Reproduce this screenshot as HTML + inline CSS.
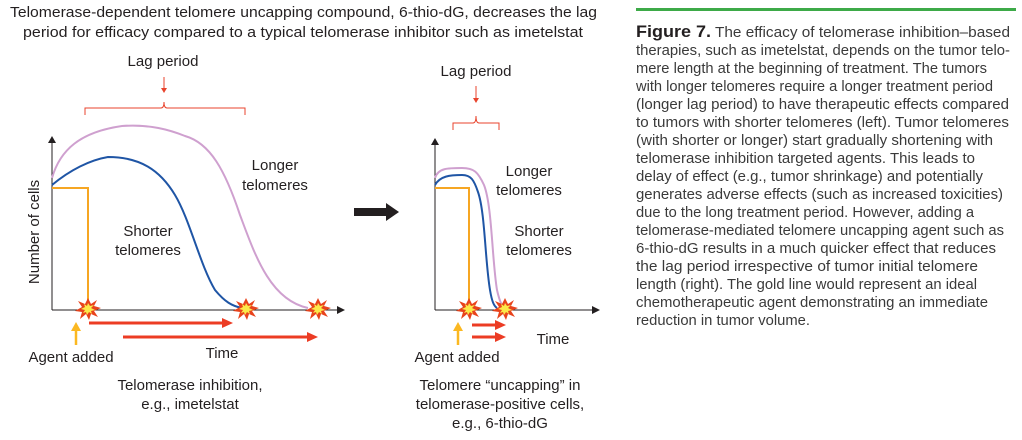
<!DOCTYPE html>
<html><head><meta charset="utf-8"><style>
html,body{margin:0;padding:0;background:#fff;width:1022px;height:440px;overflow:hidden}
svg{display:block}
.t{font-family:"Liberation Sans",sans-serif;font-size:15px;fill:#231f20}
.c{font-family:"Liberation Sans",sans-serif;font-size:14.5px;fill:#3a3a3a}
</style></head><body>
<svg width="1022" height="440" viewBox="0 0 1022 440">
<defs>
<g id="boom">
<polygon points="0,-11 3,-5 9,-9 6,-3 13,-1 6,2 10,8 3,5 1,11 -2,5 -8,10 -6,3 -13,2 -6,-2 -10,-8 -3,-5" fill="#e8431c"/>
<polygon points="0,-6 2,-3 6,-4 3,-1 7,1 3,2 4,5 1,3 -1,6 -2,3 -5,4 -3,1 -7,0 -3,-2 -4,-5 -1,-3" fill="#fbe94a"/>
</g>
</defs>
<!-- Title -->
<text class="t" x="10" y="17" textLength="587" lengthAdjust="spacingAndGlyphs">Telomerase-dependent telomere uncapping compound, 6-thio-dG, decreases the lag</text>
<text class="t" x="23" y="37" textLength="560" lengthAdjust="spacingAndGlyphs">period for efficacy compared to a typical telomerase inhibitor such as imetelstat</text>

<!-- LEFT CHART -->
<text class="t" x="163" y="66" text-anchor="middle">Lag period</text>
<line x1="164" y1="77" x2="164" y2="88" stroke="#e8432c" stroke-width="1"/>
<polygon points="161,88 167,88 164,93" fill="#e8432c"/>
<path d="M85,115 V108 H161 Q164,108 164,102 Q164,108 167,108 H245 V115" fill="none" stroke="#e8432c" stroke-width="1"/>
<line x1="52" y1="310" x2="52" y2="142" stroke="#231f20" stroke-width="1"/>
<polygon points="48,143 56,143 52,136" fill="#231f20"/>
<line x1="52" y1="310" x2="338" y2="310" stroke="#231f20" stroke-width="1"/>
<polygon points="337,306 337,314 345,310" fill="#231f20"/>
<path d="M52,188 H88 V310" fill="none" stroke="#f6a623" stroke-width="2"/>
<path d="M52,178 C60,150 80,132 122,126 C150,124 170,130 185,136 C210,143 225,170 240,215 C255,255 270,300 308,308" fill="none" stroke="#cfa0cf" stroke-width="2"/>
<path d="M52,185 C70,170 90,160 108,157 C140,157 160,170 175,195 C190,220 200,265 215,290 C225,302 232,306 242,308" fill="none" stroke="#1f55a5" stroke-width="2"/>
<use href="#boom" x="88" y="309"/>
<use href="#boom" x="246" y="309"/>
<use href="#boom" x="318" y="309"/>
<line x1="89" y1="323" x2="224" y2="323" stroke="#ec3c24" stroke-width="3"/>
<polygon points="222,318 222,328 233,323" fill="#ec3c24"/>
<line x1="123" y1="337" x2="309" y2="337" stroke="#ec3c24" stroke-width="3"/>
<polygon points="307,332 307,342 318,337" fill="#ec3c24"/>
<line x1="76" y1="345" x2="76" y2="330" stroke="#fbb821" stroke-width="2.5"/>
<polygon points="71,331 81,331 76,322" fill="#fbb821"/>
<text class="t" x="275" y="170" text-anchor="middle">Longer</text>
<text class="t" x="275" y="190" text-anchor="middle">telomeres</text>
<text class="t" x="148" y="236" text-anchor="middle">Shorter</text>
<text class="t" x="148" y="255" text-anchor="middle">telomeres</text>
<text class="t" x="0" y="0" text-anchor="middle" transform="translate(39,232) rotate(-90)">Number of cells</text>
<text class="t" x="71" y="362" text-anchor="middle">Agent added</text>
<text class="t" x="222" y="358" text-anchor="middle">Time</text>
<text class="t" x="190" y="390" text-anchor="middle">Telomerase inhibition,</text>
<text class="t" x="190" y="409" text-anchor="middle">e.g., imetelstat</text>

<!-- middle arrow -->
<rect x="354" y="208" width="34" height="8" fill="#231f20"/>
<polygon points="386,203 386,221 399,212" fill="#231f20"/>

<!-- RIGHT CHART -->
<text class="t" x="476" y="76" text-anchor="middle">Lag period</text>
<line x1="476" y1="86" x2="476" y2="98" stroke="#e8432c" stroke-width="1"/>
<polygon points="473,98 479,98 476,103" fill="#e8432c"/>
<path d="M453,130 V123 H473 Q476,123 476,116 Q476,123 479,123 H499 V130" fill="none" stroke="#e8432c" stroke-width="1"/>
<line x1="435" y1="310" x2="435" y2="144" stroke="#231f20" stroke-width="1"/>
<polygon points="431,145 439,145 435,138" fill="#231f20"/>
<line x1="435" y1="310" x2="593" y2="310" stroke="#231f20" stroke-width="1"/>
<polygon points="592,306 592,314 600,310" fill="#231f20"/>
<path d="M435,188 H469 V310" fill="none" stroke="#f6a623" stroke-width="2"/>
<path d="M435,178 C438,168 448,168 462,168 C474,168 478,172 484,185 C492,205 492,260 497,290 C500,303 502,306 505,308" fill="none" stroke="#cfa0cf" stroke-width="2"/>
<path d="M435,185 C440,176 450,175 462,175 C471,175 474,180 478,192 C485,212 485,260 490,290 C492,302 494,306 497,308" fill="none" stroke="#1f55a5" stroke-width="2"/>
<use href="#boom" x="469" y="309"/>
<use href="#boom" x="505" y="309"/>
<line x1="472" y1="325" x2="497" y2="325" stroke="#ec3c24" stroke-width="3"/>
<polygon points="495,320 495,330 506,325" fill="#ec3c24"/>
<line x1="472" y1="337" x2="497" y2="337" stroke="#ec3c24" stroke-width="3"/>
<polygon points="495,332 495,342 506,337" fill="#ec3c24"/>
<line x1="458" y1="345" x2="458" y2="330" stroke="#fbb821" stroke-width="2.5"/>
<polygon points="453,331 463,331 458,322" fill="#fbb821"/>
<text class="t" x="529" y="176" text-anchor="middle">Longer</text>
<text class="t" x="529" y="195" text-anchor="middle">telomeres</text>
<text class="t" x="539" y="236" text-anchor="middle">Shorter</text>
<text class="t" x="539" y="255" text-anchor="middle">telomeres</text>
<text class="t" x="553" y="344" text-anchor="middle">Time</text>
<text class="t" x="457" y="362" text-anchor="middle">Agent added</text>
<text class="t" x="500" y="390" text-anchor="middle">Telomere “uncapping” in</text>
<text class="t" x="500" y="409" text-anchor="middle">telomerase-positive cells,</text>
<text class="t" x="500" y="428" text-anchor="middle">e.g., 6-thio-dG</text>

<!-- CAPTION -->
<rect x="636" y="8" width="380" height="3" fill="#3daa48"/>
<text class="c" x="636" y="37" textLength="374" lengthAdjust="spacingAndGlyphs"><tspan font-weight="bold" font-size="17" fill="#231f20">Figure 7.</tspan> The efficacy of telomerase inhibition–based</text>
<text class="c" x="636" y="55" textLength="374" lengthAdjust="spacingAndGlyphs">therapies, such as imetelstat, depends on the tumor telo-</text>
<text class="c" x="636" y="73" textLength="351" lengthAdjust="spacingAndGlyphs">mere length at the beginning of treatment. The tumors</text>
<text class="c" x="636" y="91" textLength="357" lengthAdjust="spacingAndGlyphs">with longer telomeres require a longer treatment period</text>
<text class="c" x="636" y="109" textLength="373" lengthAdjust="spacingAndGlyphs">(longer lag period) to have therapeutic effects compared</text>
<text class="c" x="636" y="127" textLength="373" lengthAdjust="spacingAndGlyphs">to tumors with shorter telomeres (left). Tumor telomeres</text>
<text class="c" x="636" y="145" textLength="357" lengthAdjust="spacingAndGlyphs">(with shorter or longer) start gradually shortening with</text>
<text class="c" x="636" y="163" textLength="339" lengthAdjust="spacingAndGlyphs">telomerase inhibition targeted agents. This leads to</text>
<text class="c" x="636" y="181" textLength="347" lengthAdjust="spacingAndGlyphs">delay of effect (e.g., tumor shrinkage) and potentially</text>
<text class="c" x="636" y="199" textLength="367" lengthAdjust="spacingAndGlyphs">generates adverse effects (such as increased toxicities)</text>
<text class="c" x="636" y="217" textLength="338" lengthAdjust="spacingAndGlyphs">due to the long treatment period. However, adding a</text>
<text class="c" x="636" y="235" textLength="368" lengthAdjust="spacingAndGlyphs">telomerase-mediated telomere uncapping agent such as</text>
<text class="c" x="636" y="253" textLength="360" lengthAdjust="spacingAndGlyphs">6-thio-dG results in a much quicker effect that reduces</text>
<text class="c" x="636" y="271" textLength="342" lengthAdjust="spacingAndGlyphs">the lag period irrespective of tumor initial telomere</text>
<text class="c" x="636" y="289" textLength="341" lengthAdjust="spacingAndGlyphs">length (right). The gold line would represent an ideal</text>
<text class="c" x="636" y="307" textLength="352" lengthAdjust="spacingAndGlyphs">chemotherapeutic agent demonstrating an immediate</text>
<text class="c" x="636" y="325" textLength="174" lengthAdjust="spacingAndGlyphs">reduction in tumor volume.</text>
</svg>
</body></html>
